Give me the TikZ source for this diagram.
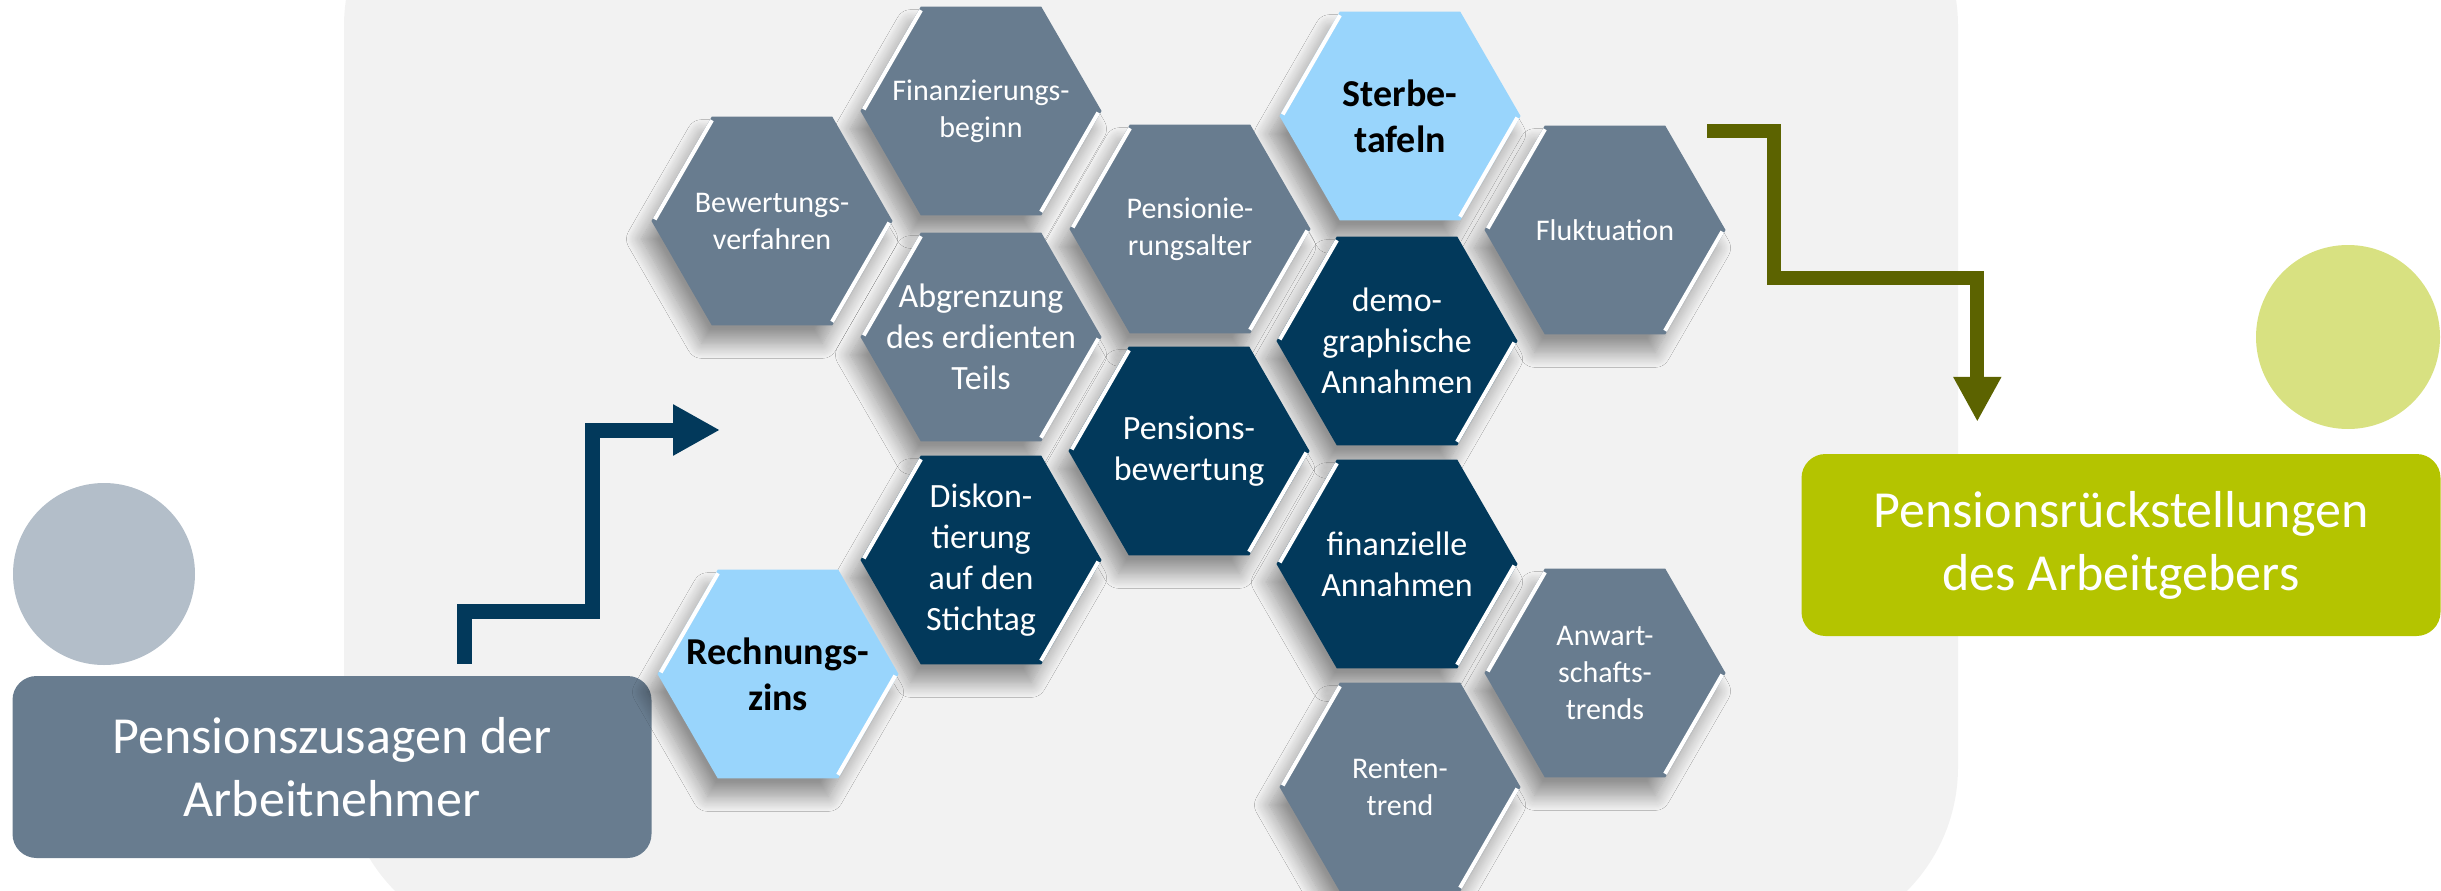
\documentclass[tikz,border=0pt]{standalone}
\usepackage{fontspec}
\setmainfont{Carlito}
\usepackage{tikz}
\usetikzlibrary{calc,shapes.geometric,arrows.meta,shadows.blur}
\definecolor{bggray}{HTML}{F2F2F2}
\definecolor{slate}{HTML}{687C8F}
\definecolor{navy}{HTML}{02395B}
\definecolor{sky}{HTML}{99D5FC}
\definecolor{dotgray}{HTML}{B3BEC9}
\definecolor{lime}{HTML}{B4C400}
\definecolor{limelight}{HTML}{D8E181}
\definecolor{olive}{HTML}{5C6300}
\def\hexbevel(#1){\draw[hexedge] ([shift={(-30:2pt)}]#1.120) -- ([shift={(-30:2pt)}]#1.180); \draw[hexedge] ([shift={(150:2pt)}]#1.0) -- ([shift={(150:2pt)}]#1.300);}

\begin{document}
\begin{tikzpicture}[x=1pt, y=-1pt,
	hexa/.style={regular polygon, regular polygon sides=6, minimum size=241pt, inner sep=0pt, outer sep=0pt, draw=none, blur shadow={shadow xshift=-10pt, shadow yshift=-18pt, shadow blur radius=15pt, shadow blur steps=15, shadow opacity=40}},
	hexsmall/.style={text=white, align=center, font=\fontsize{30}{37}\selectfont},
	hexlarge/.style={text=white, align=center, font=\fontsize{34}{41}\selectfont},
	hexbold/.style={text=black, align=center, font=\fontsize{38}{46}\selectfont\bfseries},
	infobox/.style={rounded corners=24pt, minimum width=639pt, minimum height=182pt, text=white, align=center, font=\fontsize{52}{63}\selectfont},
	hexedge/.style={white, line width=4pt, shorten <=3pt, shorten >=3pt},
	treppe/.style={line width=15pt, -{Triangle[length=47pt, width=48pt]}}]
		%%%%% HINTERGRUND %%%%%
		
		\useasboundingbox (0,0) rectangle (2441,891);
		\begin{scope}
			\clip (0,0) rectangle (2441,891);
			\fill[bggray, rounded corners=176pt] (344,-150) rectangle (1958,943);
		\end{scope}
		
		\fill[dotgray] (104,574) circle [radius=91pt];
		\node[infobox, fill=slate] (zusage) at (332,767) {Pensionszusagen der\\Arbeitnehmer};
		
		\fill[limelight] (2348,337) circle [radius=92pt];
		\node[infobox, fill=lime] (rueck) at (2121,545) {Pensionsrückstellungen\\des Arbeitgebers};
		
		%%%%% WABEN %%%%%
		
		\node[hexa, fill=slate] (finanzierung) at (981,111) {};
		\node[hexsmall] (finanzierung-text) at (finanzierung) {Finanzierungs-\\beginn};
		\hexbevel(finanzierung)
		
		\node[hexa, fill=sky] (sterbetafeln) at (1400,116) {};
		\node[hexbold] (sterbetafeln-text) at (sterbetafeln) {Sterbe-\\tafeln};
		\hexbevel(sterbetafeln)
		
		\node[hexa, fill=slate] (verfahren) at (772,221) {};
		\node[hexsmall] (verfahren-text) at (verfahren) {Bewertungs-\\verfahren};
		\hexbevel(verfahren)
		
		\node[hexa, fill=slate] (alter) at (1190,229) {};
		\node[hexsmall] (alter-text) at (alter) {Pensionie-\\rungsalter};
		\hexbevel(alter)
		
		\node[hexa, fill=slate] (fluktuation) at (1605,230) {};
		\node[hexsmall] (fluktuation-text) at (fluktuation) {Fluktuation};
		\hexbevel(fluktuation)
		
		\node[hexa, fill=slate] (abgrenzung) at (981,337) {};
		\node[hexlarge] (abgrenzung-text) at (abgrenzung) {Abgrenzung\\des erdienten\\Teils};
		\hexbevel(abgrenzung)
		
		\node[hexa, fill=navy] (demografie) at (1397,341) {};
		\node[hexlarge] (demografie-text) at (demografie) {demo-\\graphische\\Annahmen};
		\hexbevel(demografie)
		
		\node[hexa, fill=navy] (bewertung) at (1189,451) {};
		\node[hexlarge] (bewertung-text) at (bewertung) {Pensions-\\bewertung};
		\hexbevel(bewertung)
		
		\node[hexa, fill=navy] (diskont) at (981,560) {};
		\node[hexlarge] (diskont-text) at (diskont) {Diskon-\\tierung\\auf den\\Stichtag};
		\hexbevel(diskont)
		
		\node[hexa, fill=navy] (finanziell) at (1397,564) {};
		\node[hexlarge] (finanziell-text) at (finanziell) {finanzielle\\Annahmen};
		\hexbevel(finanziell)
		
		\node[hexa, fill=slate] (anwartschaft) at (1605,673) {};
		\node[hexsmall] (anwartschaft-text) at (anwartschaft) {Anwart-\\schafts-\\trends};
		\hexbevel(anwartschaft)
		
		\node[hexa, fill=sky] (zins) at (778,674) {};
		\node[hexbold] (zins-text) at (zins) {Rechnungs-\\zins};
		\hexbevel(zins)
		
		\node[hexa, fill=slate] (rente) at (1400,787) {};
		\node[hexsmall] (rente-text) at (rente) {Renten-\\trend};
		\hexbevel(rente)
		
		%%%%% PFEILE %%%%%
		
		\coordinate (zusage-ziel) at (720,430);
		\draw[treppe, navy] ($(zusage.north west)+(452,-12)$) |- (592,611) |- (zusage-ziel);
		
		\coordinate (rueck-start) at (1707,131);
		\coordinate (rueck-ziel) at ($(rueck.north west)+(176,-32)$);
		\draw[treppe, olive, line width=14pt, -{Triangle[length=45pt, width=45pt]}] (rueck-start) -| (1774,278) -| (rueck-ziel);
		
	\end{tikzpicture}
\end{document}
